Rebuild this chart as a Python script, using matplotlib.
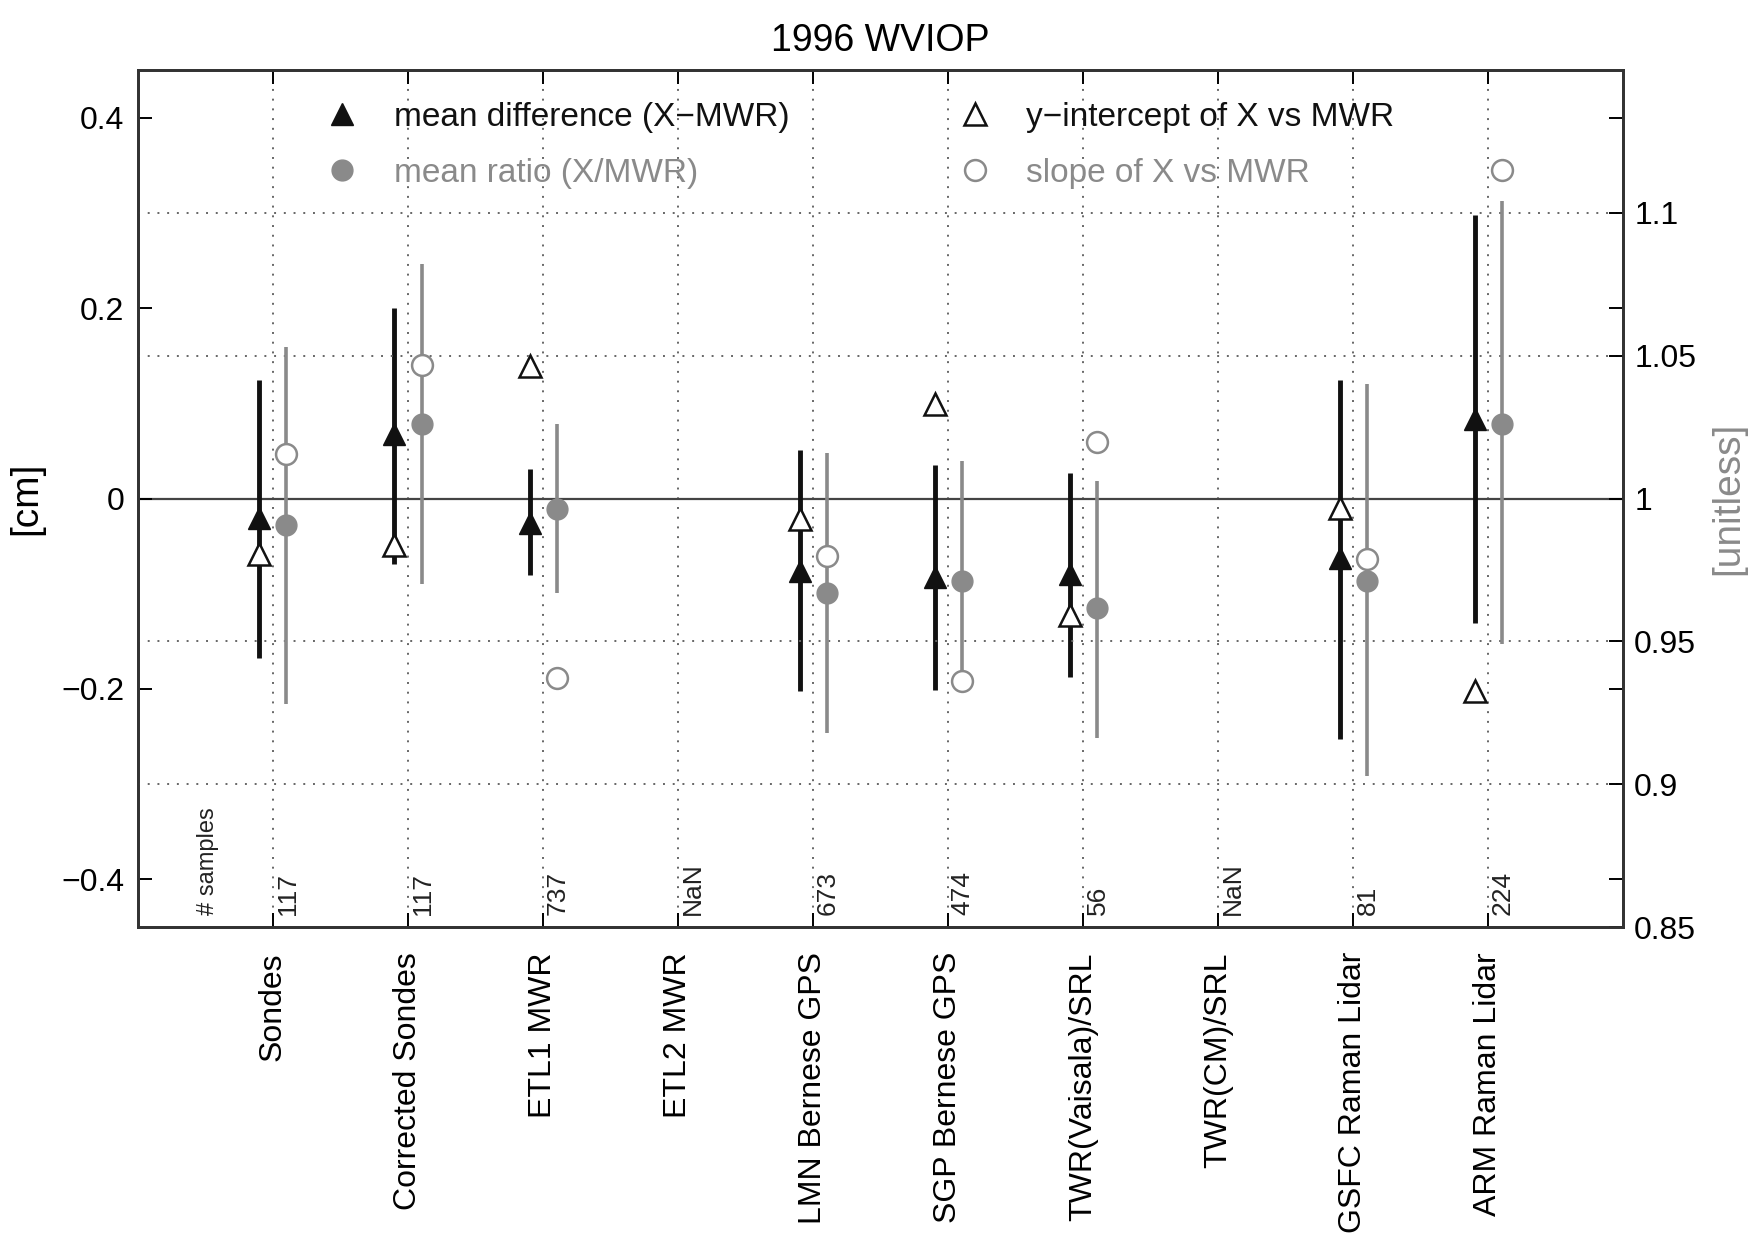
import numpy as np
import matplotlib
matplotlib.use("Agg")
import matplotlib.pyplot as plt

plt.rcParams['font.family'] = ['Liberation Sans', 'DejaVu Sans']

categories = ["Sondes", "Corrected Sondes", "ETL1 MWR", "ETL2 MWR",
              "LMN Bernese GPS", "SGP Bernese GPS", "TWR(Vaisala)/SRL",
              "TWR(CM)/SRL", "GSFC Raman Lidar", "ARM Raman Lidar"]
n_samples = ["117", "117", "737", "NaN", "673", "474", "56", "NaN", "81", "224"]

# mean difference (X-MWR) [cm] with range
diff_mean = [-0.020, 0.068, -0.026, np.nan, -0.076, -0.082, -0.079, np.nan, -0.062, 0.084]
diff_hi = [0.124, 0.200, 0.031, np.nan, 0.051, 0.035, 0.027, np.nan, 0.124, 0.298]
diff_lo = [-0.167, -0.069, -0.080, np.nan, -0.202, -0.201, -0.187, np.nan, -0.253, -0.131]

# y-intercept of X vs MWR [cm]
intercept = [-0.058, -0.049, 0.139, np.nan, -0.021, 0.099, -0.122, np.nan, -0.010, -0.202]

# mean ratio (X/MWR) [unitless] with range
ratio_mean = [0.9906, 1.026, 0.9965, np.nan, 0.967, 0.971, 0.9617, np.nan, 0.971, 1.026]
ratio_hi = [1.053, 1.082, 1.026, np.nan, 1.016, 1.013, 1.006, np.nan, 1.040, 1.104]
ratio_lo = [0.928, 0.970, 0.967, np.nan, 0.918, 0.933, 0.916, np.nan, 0.903, 0.949]

# slope of X vs MWR [unitless]
slope = [1.0157, 1.0467, 0.937, np.nan, 0.980, 0.936, 1.0197, np.nan, 0.979, 1.115]

x = np.arange(1, len(categories) + 1)
dx = 0.1
black = '#111111'
gray = '#8a8a8a'
dotc = '#666666'

fig = plt.figure(figsize=(17.6, 12.37), dpi=100)
ax = fig.add_axes([0.0784, 0.2506, 0.8438, 0.6928])
ax2 = ax.twinx()

ax.set_xlim(0, 11)
ax.set_ylim(-0.45, 0.45)
ax2.set_ylim(0.85, 1.15)

# grid
for xi in x:
    ax.axvline(xi, color=dotc, lw=1.4, ls=(0, (1, 4)), zorder=0)
for yv in [0.9, 0.95, 1.05, 1.1]:
    ax2.axhline(yv, color=dotc, lw=1.4, ls=(0, (1, 4)), zorder=0)
ax.axhline(0, color='#444444', lw=1.6, zorder=1)

ok = ~np.isnan(np.array(diff_mean))
ax.vlines(x[ok] - dx, np.array(diff_lo)[ok], np.array(diff_hi)[ok], color=black, lw=3.5, zorder=3)
ax2.vlines(x[ok] + dx, np.array(ratio_lo)[ok], np.array(ratio_hi)[ok], color=gray, lw=2.6, zorder=3)

h1 = ax.plot(x - dx, diff_mean, '^', color=black, ms=16, ls='none', zorder=4,
             label='mean difference (X\u2212MWR)')[0]
h3 = ax.plot(x - dx, intercept, '^', mfc='white', mec=black, mew=1.8, ms=16, ls='none', zorder=4,
             label='y\u2212intercept of X vs MWR')[0]
h2 = ax2.plot(x + dx, ratio_mean, 'o', color=gray, ms=15, ls='none', zorder=4,
              label='mean ratio (X/MWR)')[0]
h4 = ax2.plot(x + dx, slope, 'o', mfc='white', mec=gray, mew=1.8, ms=15, ls='none', zorder=4,
              label='slope of X vs MWR')[0]

leg = ax2.legend([h1, h2, h3, h4], [h.get_label() for h in [h1, h2, h3, h4]],
                 ncol=2, loc='upper left', bbox_to_anchor=(0.105, 0.998), frameon=False,
                 fontsize=24, labelcolor=[black, gray, black, gray], numpoints=1,
                 handlelength=1.1, handletextpad=1.0, columnspacing=5.0, labelspacing=0.75)

# sample counts
for xi, s in zip(x, n_samples):
    ax.text(xi + 0.02, -0.437, s, rotation=90, ha='left', va='bottom', fontsize=19, color='#222222')
ax.text(0.52, -0.437, '# samples', rotation=90, ha='center', va='bottom', fontsize=17, color='#222222')

# axes ticks
ax.set_xticks(x)
ax.set_xticklabels(categories, rotation=90, fontsize=23)
ax.set_yticks([-0.4, -0.2, 0, 0.2, 0.4])
ax.set_yticklabels(['\u22120.4', '\u22120.2', '0', '0.2', '0.4'], fontsize=23)
ax.tick_params(axis='both', direction='in', length=10, width=1.4, top=True, right=True, pad=10)
ax.tick_params(axis='x', pad=18)
ax2.set_yticks([0.85, 0.9, 0.95, 1.0, 1.05, 1.1])
ax2.set_yticklabels(['0.85', '0.9', '0.95', '1', '1.05', '1.1'], fontsize=23)
ax2.tick_params(axis='y', direction='in', length=10, width=1.4, pad=8)

for sp in ax.spines.values():
    sp.set_linewidth(2)
    sp.set_color('#333333')
for sp in ax2.spines.values():
    sp.set_linewidth(2)
    sp.set_color('#333333')

ax.set_ylabel('[cm]', fontsize=28, labelpad=12)
ax2.set_ylabel('[unitless]', fontsize=28, color=gray, labelpad=10)
ax.set_title('1996 WVIOP', fontsize=27, pad=14)

fig.savefig('out.png', dpi=100)
